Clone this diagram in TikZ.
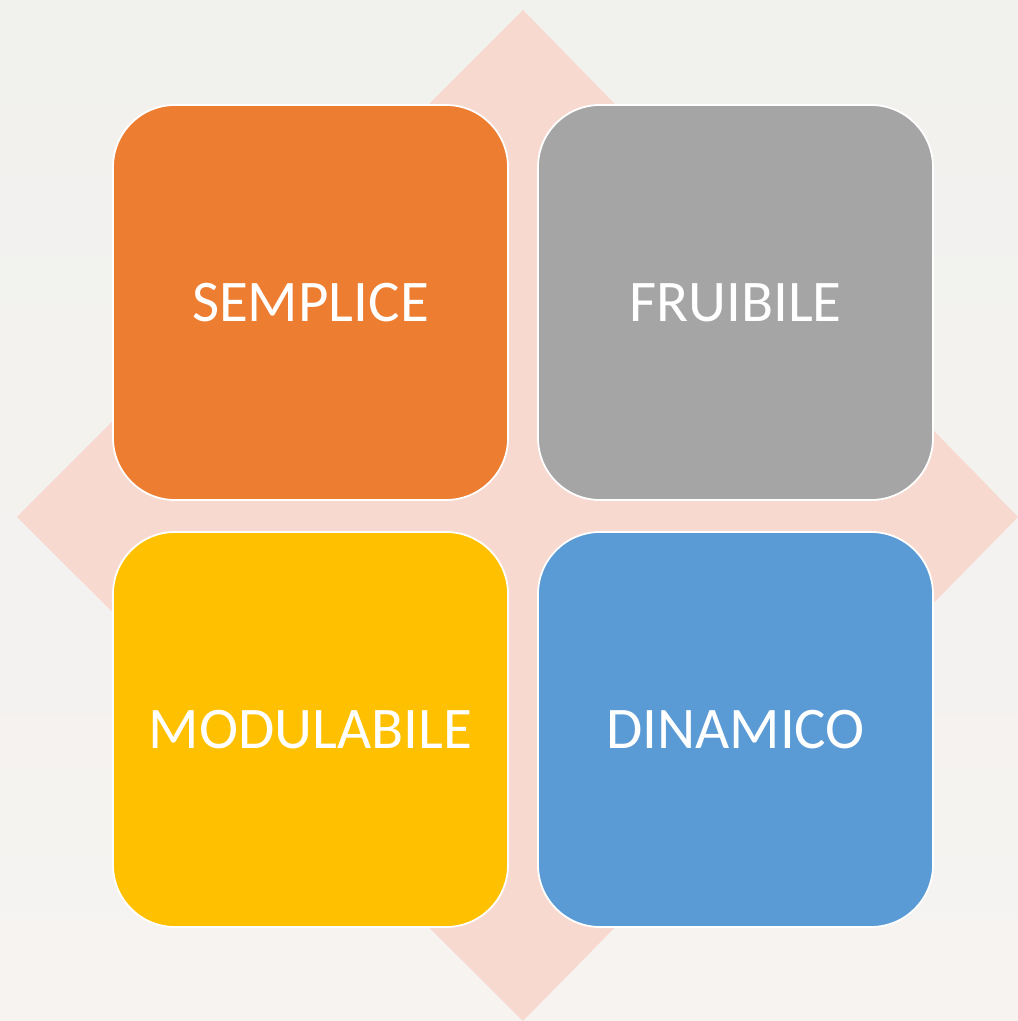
\documentclass[tikz,border=0pt]{standalone}
\usepackage{fontspec}
\setmainfont{Carlito}
\definecolor{bgtop}{HTML}{F1F1EE}
\definecolor{bgbot}{HTML}{F6F3F1}
\definecolor{diam}{HTML}{F7D9CF}
\definecolor{corange}{HTML}{ED7D31}
\definecolor{cgray}{HTML}{A5A5A5}
\definecolor{cyellow}{HTML}{FFC000}
\definecolor{cblue}{HTML}{5B9BD5}
\begin{document}
\begin{tikzpicture}[x=1pt,y=1pt,
  tile/.style={draw=white,line width=1.8pt,rounded corners=62pt,minimum width=395pt,minimum height=395pt,
    inner sep=0pt,text=white,font=\fontsize{59}{62}\selectfont}]
\useasboundingbox (0,0) rectangle (1018,1021);
\shade[top color=bgtop,bottom color=bgbot] (0,0) rectangle (1018,1021);
\fill[diam] (523,1011) -- (1018,504) -- (523,0) -- (17,504) -- cycle;
\node[tile,fill=corange] (semplice) at (310.5,718.5) {SEMPLICE};
\node[tile,fill=cgray] (fruibile) at (735.5,718.5) {FRUIBILE};
\node[tile,fill=cyellow] (modulabile) at (310.5,291.5) {MODULABILE};
\node[tile,fill=cblue] (dinamico) at (735.5,291.5) {DINAMICO};
\end{tikzpicture}
\end{document}
